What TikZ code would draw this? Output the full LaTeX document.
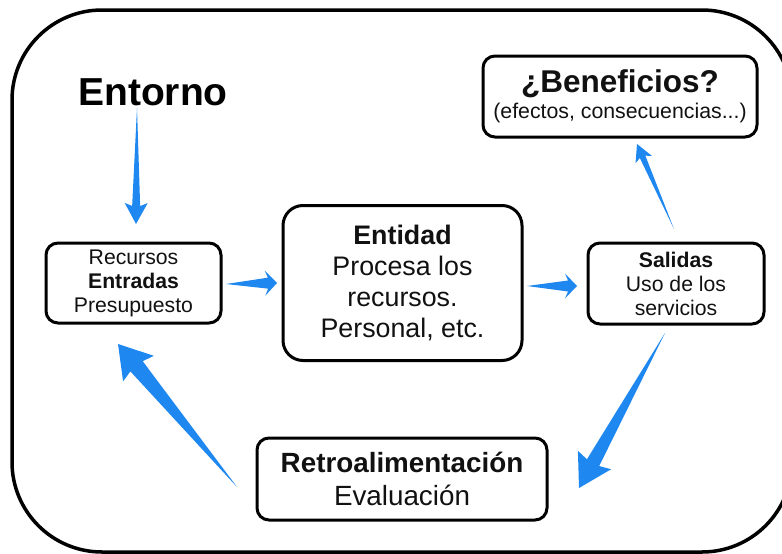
\documentclass[tikz,border=0pt]{standalone}
\usepackage{fontspec}
\setmainfont{Liberation Sans}
\usetikzlibrary{calc}
\definecolor{azul}{RGB}{30,136,240}
\definecolor{tinta}{RGB}{17,17,17}

% flecha afilada: cola, punta, medio ancho, media cabeza, largo cabeza
\newcommand{\flecha}[5]{%
  \coordinate (fb) at ($(#2)!#5!(#1)$);
  \coordinate (fc) at ($(#2)!#5+3pt!(#1)$);
  \fill[azul] (#1) -- ($(fb)!#3!90:(#2)$) -- ($(fc)!#4!90:(#2)$) -- (#2)
    -- ($(fc)!#4!-90:(#2)$) -- ($(fb)!#3!-90:(#2)$) -- cycle;}

\tikzset{
  caja/.style={draw=black, line width=3pt, rounded corners=12pt, align=center,
    inner sep=0pt, text=tinta},
  chica/.style={font=\fontsize{21.2}{24}\selectfont},
  grande/.style={font=\fontsize{26.8}{31}\selectfont}
}

\begin{document}
\begin{tikzpicture}[x=1pt, y=-1pt]
    \useasboundingbox (0,0) rectangle (782,554);
    \clip (0,0) rectangle (782,554);

    % marco
    \draw[line width=3.5pt, rounded corners=90pt] (12,10) rectangle (792,552);

    % entorno
    \node[anchor=base, text=black, font=\fontsize{39}{39}\selectfont\bfseries] (entorno) at (153,105) {Entorno};

    % cajas
    \node[caja, chica, minimum width=175pt, minimum height=80pt] (recursos) at (133.5,283)
      {Recursos\\\textbf{Entradas}\\Presupuesto};
    \node[caja, grande, rounded corners=20pt, minimum width=239pt, minimum height=155pt] (entidad) at (402.5,283)
      {\textbf{Entidad}\\Procesa los\\recursos.\\Personal, etc.};
    \node[caja, chica, minimum width=176pt, minimum height=81pt] (salidas) at (676,283.5)
      {\textbf{Salidas}\\Uso de los\\servicios};
    \node[caja, font=\fontsize{27.8}{33}\selectfont, minimum width=290pt, minimum height=82pt] (retro) at (402,479)
      {\textbf{Retroalimentación}\\Evaluación};
    \node[caja, font=\fontsize{21.3}{26}\selectfont, minimum width=274pt, minimum height=81pt] (beneficios) at (620,96.5)
      {{\fontsize{31.5}{26}\selectfont\bfseries ¿Beneficios?}\\(efectos, consecuencias...)};

    % extremos de las flechas
    \coordinate (entorno-cola) at (137,108);
    \coordinate (entorno-punta) at (136,224);
    \coordinate (recursos-cola) at (226,284);
    \coordinate (recursos-punta) at (277,283);
    \coordinate (entidad-cola) at (527,286);
    \coordinate (entidad-punta) at (577,286);
    \coordinate (salidas-cola) at (674,229);
    \coordinate (salidas-punta) at (637,144);
    \coordinate (retro-cola) at (665,333);
    \coordinate (retro-punta) at (579,488);
    \coordinate (vuelta-cola) at (237,487);
    \coordinate (vuelta-punta) at (118,344);

    % flechas
    \flecha{entorno-cola}{entorno-punta}{4pt}{11.5pt}{18pt}
    \flecha{recursos-cola}{recursos-punta}{5.5pt}{12.5pt}{9pt}
    \flecha{entidad-cola}{entidad-punta}{5.5pt}{12.5pt}{9pt}
    \flecha{salidas-cola}{salidas-punta}{3pt}{9pt}{14pt}
    \flecha{retro-cola}{retro-punta}{7pt}{19pt}{29pt}
    \flecha{vuelta-cola}{vuelta-punta}{8pt}{20pt}{29pt}
\end{tikzpicture}
\end{document}
